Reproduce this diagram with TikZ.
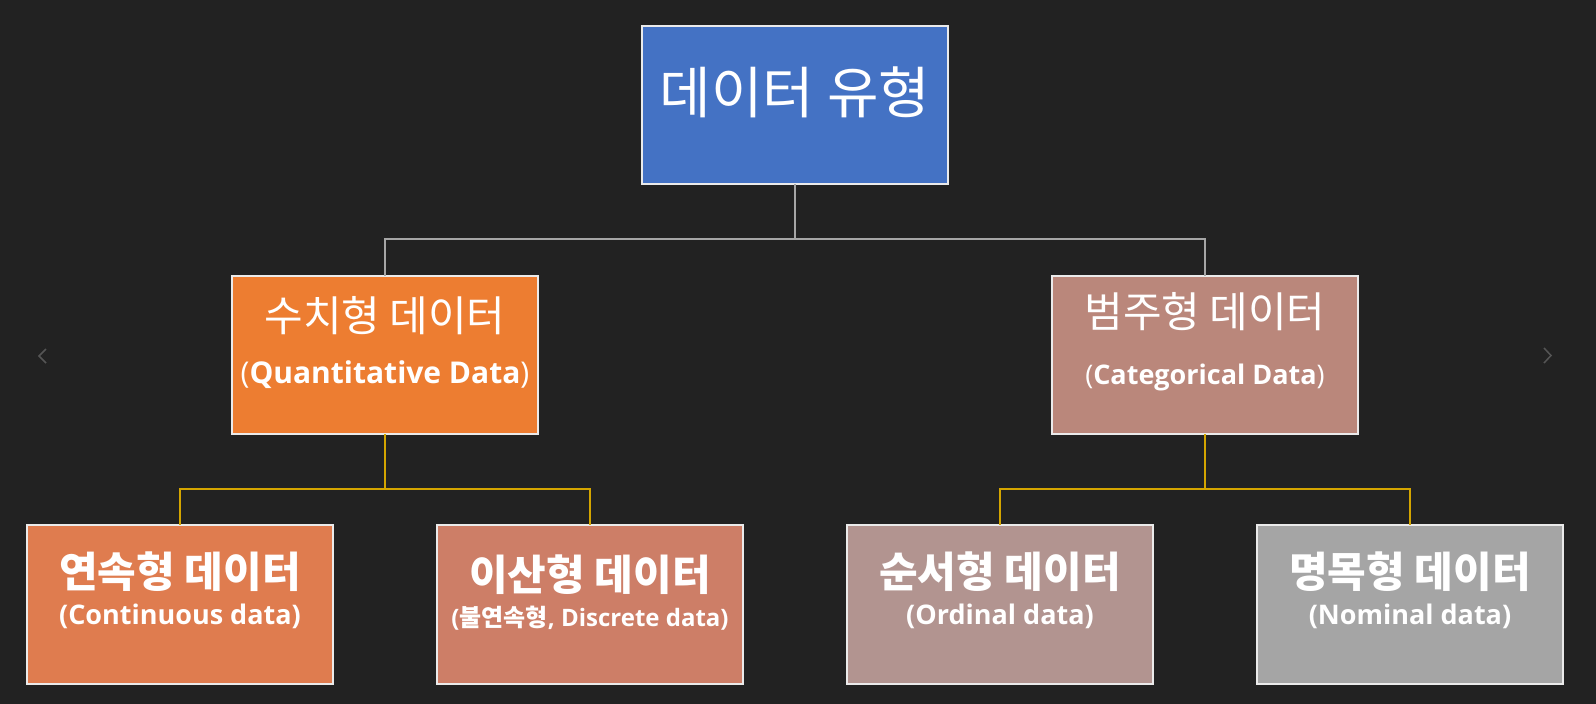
\documentclass[tikz,border=0pt]{standalone}
\usepackage{fontspec}
\setmainfont{Open Sans}
\newfontfamily\kr{Noto Sans CJK KR}
\definecolor{bgc}{HTML}{222222}
\definecolor{topc}{HTML}{4472C4}
\definecolor{quantc}{HTML}{ED7D31}
\definecolor{catc}{HTML}{BA877B}
\definecolor{contc}{HTML}{DF7C4F}
\definecolor{discc}{HTML}{CD7E67}
\definecolor{ordc}{HTML}{B29490}
\definecolor{nomc}{HTML}{A5A5A5}
\definecolor{grayline}{HTML}{A6A6A6}
\definecolor{yelline}{HTML}{D4A500}
\definecolor{chev}{HTML}{555555}
\tikzset{
  box/.style={draw=white!92!black, line width=1.8pt, minimum width=306pt, minimum height=158pt, inner sep=0pt, outer sep=0pt},
  lbl/.style={text=white, inner sep=0pt, anchor=center},
  gconn/.style={draw=grayline, line width=1.8pt},
  yconn/.style={draw=yelline, line width=1.8pt},
}
\begin{document}
\begin{tikzpicture}[x=1pt,y=-1pt]
\fill[bgc] (0,0) rectangle (1596,704);
\useasboundingbox (0,0) rectangle (1596,704);
% boxes
\node[box, fill=topc] (top) at (795,105) {};
\node[box, fill=quantc] (quant) at (385,355) {};
\node[box, fill=catc] (cat) at (1205,355) {};
\node[box, fill=contc, minimum height=159pt] (cont) at (180,604.5) {};
\node[box, fill=discc, minimum height=159pt] (disc) at (590,604.5) {};
\node[box, fill=ordc, minimum height=159pt] (ord) at (1000,604.5) {};
\node[box, fill=nomc, minimum height=159pt] (nom) at (1410,604.5) {};
% connectors
\coordinate (j1) at (795,239);
\coordinate (j2) at (385,489);
\coordinate (j3) at (1205,489);
\draw[gconn] (top.south) -- (j1) -| (quant.north);
\draw[gconn] (j1) -| (cat.north);
\draw[yconn] (quant.south) -- (j2) -| (cont.north);
\draw[yconn] (j2) -| (disc.north);
\draw[yconn] (cat.south) -- (j3) -| (ord.north);
\draw[yconn] (j3) -| (nom.north);
% texts
\node[lbl, font=\kr\fontsize{56}{62}\selectfont] (toptxt) at (795,92) {데이터 유형};
\node[lbl, font=\kr\fontsize{42}{48}\selectfont] (quanttxt) at (385,316) {수치형 데이터};
\node[lbl, font=\bfseries\fontsize{30}{36}\selectfont] (quantsub) at (385,375) {{\mdseries(}Quantitative Data{\mdseries)}};
\node[lbl, font=\kr\fontsize{42}{48}\selectfont] (cattxt) at (1205,312) {범주형 데이터};
\node[lbl, font=\bfseries\fontsize{27}{32}\selectfont] (catsub) at (1205,377) {{\mdseries(}Categorical Data{\mdseries)}};
\node[lbl, font=\kr\bfseries\fontsize{42}{48}\selectfont] (conttxt) at (180,572) {연속형 데이터};
\node[lbl, font=\bfseries\fontsize{27}{32}\selectfont] (contsub) at (180,616) {(Continuous data)};
\node[lbl, font=\kr\bfseries\fontsize{42}{48}\selectfont] (disctxt) at (590,575) {이산형 데이터};
\node[lbl, font=\bfseries\fontsize{24}{28}\selectfont] (discsub) at (590,618) {({\kr 불연속형}, Discrete data)};
\node[lbl, font=\kr\bfseries\fontsize{42}{48}\selectfont] (ordtxt) at (1000,572) {순서형 데이터};
\node[lbl, font=\bfseries\fontsize{27}{32}\selectfont] (ordsub) at (1000,616) {(Ordinal data)};
\node[lbl, font=\kr\bfseries\fontsize{42}{48}\selectfont] (nomtxt) at (1410,572) {명목형 데이터};
\node[lbl, font=\bfseries\fontsize{27}{32}\selectfont] (nomsub) at (1410,616) {(Nominal data)};
% faint chevrons
\draw[chev, line width=1.5pt] (46,349) -- (39,356) -- (46,363);
\draw[chev, line width=1.5pt] (1544,348) -- (1551,355.5) -- (1544,363);
\end{tikzpicture}
\end{document}
